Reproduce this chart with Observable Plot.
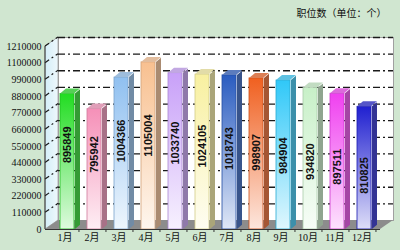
<!DOCTYPE html>
<html><head><meta charset="utf-8">
<script src="https://cdn.jsdelivr.net/npm/d3@7"></script>
<script src="https://cdn.jsdelivr.net/npm/@observablehq/plot@0.6"></script>
<style>
html,body{margin:0;padding:0;background:#d0e6d0;width:400px;height:250px;overflow:hidden}
</style>
</head><body><div id="chart"></div>
<script>
const months = ["1月","2月","3月","4月","5月","6月","7月","8月","9月","10月","11月","12月"];
const values = [895849, 795942, 1004366, 1105004, 1033740, 1024105, 1018743, 998907, 984904, 934820, 897511, 810825];
const barColors = ["#22dd22","#f590b8","#90c0f0","#f8c090","#c8a0f8","#f8f0a0","#2a5cc0","#f06020","#30c8f8","#c8f0c8","#f040f0","#2020d0"];
const yTicks = [0,110000,220000,330000,440000,550000,660000,770000,880000,990000,1100000,1210000];
const title = "职位数（单位：个）";

const W = 400, H = 250, mT = 46, mR = 20, mB = 21, mL = 45;
const yMax = 1210000;
const wallDX = 13, wallDY = 9;
const barDX = 6, barDY = 5;
const bw = (W - mL - mR) / months.length;
const pxToVal = yMax / (H - mT - mB);
const mix = (a, b, t) => d3.interpolateRgb(a, b)(t);

const data = months.map((m, i) => ({month: m, value: values[i], color: barColors[i], i}));

const chart = Plot.plot({
  width: W, height: H, marginTop: mT, marginRight: mR, marginBottom: mB, marginLeft: mL,
  style: {background: "transparent", fontFamily: "'Liberation Serif','Noto Sans CJK SC',serif", fontSize: "10px", color: "#111", overflow: "visible"},
  x: {domain: months, padding: 0, tickSize: 0, tickPadding: 4, label: null},
  y: {domain: [0, yMax], ticks: yTicks, tickFormat: d => String(d), tickSize: 0, tickPadding: 4, label: null},
  color: {type: "identity"},
  marks: [
    Plot.frame({fill: "#ffffff", stroke: "#a0a0a0", dx: wallDX, dy: -wallDY}),
    Plot.ruleY(yTicks.slice(1), {dx: wallDX, dy: -wallDY, stroke: "#1a1a1a", strokeWidth: 1.3, strokeDasharray: "7,3,2,3"}),
    Plot.barY(data, {x: "month", y: "value", fill: d => mix(d.color, "#4a4a4a", 0.45), insetLeft: bw - 4, insetRight: 4 - barDX}),
    Plot.barY(data, {x: "month", y: "value", fill: d => `url(#bg${d.i})`, stroke: d => mix(d.color, "#000", 0.15), strokeWidth: 0.8, insetLeft: 9, insetRight: 4}),
    Plot.barY(data, {x: "month", y1: "value", y2: d => d.value + barDY * pxToVal, fill: d => mix(d.color, "#b8b8b8", 0.35), insetLeft: 9, insetRight: 4}),
    Plot.text(data, {x: "month", y: d => d.value / 2 + (17 - 2.2 * d.i) * pxToVal, text: d => String(d.value), rotate: -90, dx: 2.5, fontSize: 11, fontWeight: "bold", fontFamily: "'Liberation Sans',Arial,sans-serif", fill: "#111"}),
    Plot.ruleY([0], {stroke: "#333", strokeWidth: 1}),
    Plot.ruleX(months, {x: d => d, dx: bw / 2, y1: 0, y2: -3 * pxToVal, stroke: "#333"}),
    Plot.text([title], {frameAnchor: "top-right", dx: 6, dy: -33, lineAnchor: "middle", fontFamily: "'Noto Sans CJK SC',sans-serif", fontSize: 10, fill: "#111"})
  ]
});

document.getElementById("chart").appendChild(chart);

const svg = d3.select(chart);
const ys = chart.scale("y");
const yPix = v => ys.range[0] + (v - ys.domain[0]) / (ys.domain[1] - ys.domain[0]) * (ys.range[1] - ys.range[0]);
const y0 = yPix(0), yTop = yPix(yMax), xL = mL, xR = W - mR;

// gradients
const defs = svg.insert("defs", ":first-child");
barColors.forEach((c, i) => {
  const g = defs.append("linearGradient").attr("id", "bg" + i).attr("x1", 0).attr("y1", 0).attr("x2", 0).attr("y2", 1);
  g.append("stop").attr("offset", "0%").attr("stop-color", c);
  g.append("stop").attr("offset", "100%").attr("stop-color", mix(c, "#ffffff", 0.85));
});
const wg = defs.append("linearGradient").attr("id", "wallg").attr("x1", 0).attr("y1", 0).attr("x2", 1).attr("y2", 0);
wg.append("stop").attr("offset", "0%").attr("stop-color", "#d4eef8");
wg.append("stop").attr("offset", "100%").attr("stop-color", "#eef8fc");

// walls & floor after the back-wall frame
const frameNode = svg.select('[aria-label="frame"]').node();
const deco = document.createElementNS("http://www.w3.org/2000/svg", "g");
frameNode.parentNode.insertBefore(deco, frameNode.nextSibling);
const dg = d3.select(deco);
dg.append("polygon")
  .attr("points", `${xL},${yTop} ${xL + wallDX},${yTop - wallDY} ${xL + wallDX},${y0 - wallDY} ${xL},${y0}`)
  .attr("fill", "url(#wallg)").attr("stroke", "#a0a0a0").attr("stroke-width", 0.8);
dg.append("polygon")
  .attr("points", `${xL},${y0} ${xL + wallDX},${y0 - wallDY} ${xR + wallDX},${y0 - wallDY} ${xR},${y0}`)
  .attr("fill", "#8c8c8c");
yTicks.slice(1).forEach(v => {
  const y = yPix(v);
  dg.append("line").attr("x1", xL).attr("y1", y).attr("x2", xL + wallDX).attr("y2", y - wallDY)
    .attr("stroke", "#1a1a1a").attr("stroke-width", 1.2).attr("stroke-dasharray", "5,3,2,3");
});

// skew side and top faces
const bars = svg.selectAll('g[aria-label="bar"]').nodes();
const skY = -Math.atan(barDY / barDX) * 180 / Math.PI;
const skX = -Math.atan(barDX / barDY) * 180 / Math.PI;
d3.select(bars[0]).selectAll("rect").each(function() {
  const x = +this.getAttribute("x");
  this.setAttribute("transform", `translate(0 ${x * barDY / barDX}) skewY(${skY})`);
});
d3.select(bars[2]).selectAll("rect").each(function() {
  const yb = +this.getAttribute("y") + +this.getAttribute("height");
  this.setAttribute("transform", `translate(${yb * barDX / barDY} 0) skewX(${skX})`);
});

// front vertical axis line
svg.append("line").attr("x1", xL).attr("x2", xL).attr("y1", yTop).attr("y2", y0).attr("stroke", "#333");
</script>
</body></html>
